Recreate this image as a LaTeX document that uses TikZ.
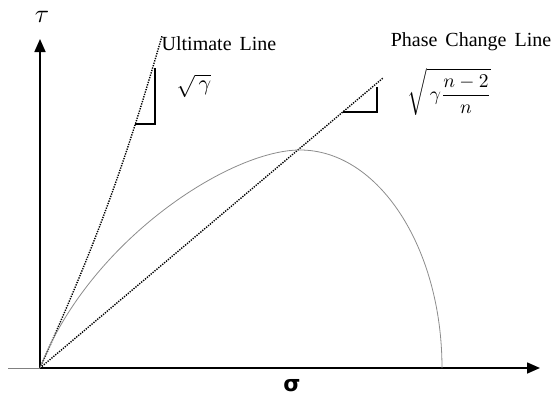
\documentclass[tikz,border=0pt]{standalone}
\usepackage{graphicx}
\usepackage{fontspec}
\setmainfont{Liberation Serif}
\newfontfamily\sgfont{DejaVu Sans}
\newfontfamily\lblfont[WordSpace=1.6]{Liberation Serif}
\usetikzlibrary{arrows.meta}
\begin{document}
\begin{tikzpicture}[x=1pt,y=-1pt,
  axis/.style={line width=1.6pt, -{Triangle[length=13pt,width=11pt]}},
  dotline/.style={line width=1.4pt, dash pattern=on 1.3pt off 1.2pt},
  curve/.style={line width=0.8pt, black!45},
  tri/.style={line width=1.3pt},
  lbl/.style={font=\lblfont\fontsize{20}{24}\selectfont, inner sep=0pt},
  mth/.style={inner sep=0pt}]
\useasboundingbox (0,0) rectangle (555,402);
\coordinate (O) at (40,368);
\coordinate (L) at (8,368);
\coordinate (Xend) at (540,368);
\coordinate (Yend) at (40,39);
\draw[line width=0.6pt, black!50] (L) -- (O);
\draw[axis] (O) -- (Xend);
\draw[axis] (O) -- (Yend);
\node[mth] (tau) at (42,17) {\scalebox{2.6}{$\tau$}};
\node[inner sep=0pt, font=\sgfont\bfseries\fontsize{22}{26}\selectfont] (sig) at (292,386) {σ};
\coordinate (U) at (162,36);
\coordinate (P) at (383,78);
\draw[dotline] (O) to[bend right=4] (U);
\draw[dotline] (O) -- (P);
\draw[curve] (O) .. controls (90,240) and (230,150) .. (300,150)
  arc[start angle=-90, end angle=0, x radius=142, y radius=218];
\draw[tri] (155,68) -- (155,124) -- (135,124);
\draw[tri] (377,87) -- (377,112) -- (343,112);
\node[lbl] (ult) at (219,44) {Ultimate Line};
\node[lbl] (phase) at (471,42) {Phase Change Line};
\node[mth] (sg) at (194,86) {\scalebox{2.2}{$\sqrt{\,\gamma}$}};
\node[mth] (sf) at (449,92) {\scalebox{1.95}{$\displaystyle\sqrt{\,\gamma\frac{n-2}{n}}$}};
\end{tikzpicture}
\end{document}
